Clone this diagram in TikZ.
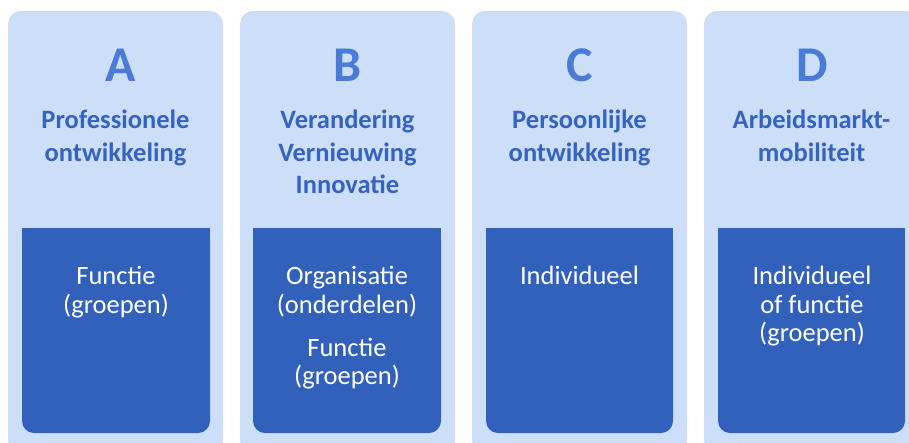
\documentclass[tikz,border=0pt]{standalone}
\usepackage{fontspec}
\setmainfont{Carlito}
\definecolor{outerbg}{HTML}{CDDFF8}
\definecolor{innerbg}{HTML}{3161BB}
\definecolor{headtxt}{HTML}{3563C0}
\definecolor{lettertxt}{HTML}{4A7BD6}
\begin{document}
\begin{tikzpicture}[x=1pt,y=-1pt,
  outerbox/.style={fill=outerbg,rounded corners=13pt},
  innerbox/.style={fill=innerbg},
  lettertext/.style={anchor=base,inner sep=0pt,text=lettertxt,font=\fontsize{50}{50}\selectfont\bfseries},
  headtext/.style={anchor=base,inner sep=0pt,align=center,text=headtxt,font=\fontsize{26.5}{32.5}\selectfont\bfseries},
  bodytext/.style={anchor=base,inner sep=0pt,align=center,text=white,font=\fontsize{26.5}{28.5}\selectfont}]
\useasboundingbox (0,0) rectangle (909,442);
\fill[white] (0,0) rectangle (909,442);
% outer columns
\foreach \l in {8,240,472,704}{
  \fill[outerbox] (\l,11) rectangle ({\l+215},454);
}
% inner boxes
\foreach \l/\r in {22/210,253/441,486/673,718/905}{
  \fill[innerbox,rounded corners=12pt] (\l,228) rectangle (\r,433);
  \fill[innerbox] (\l,228) rectangle (\r,320);
}
% letters
\node[lettertext] (la) at (121,81) {A};
\node[lettertext] (lb) at (348,81) {B};
\node[lettertext] (lc) at (580,81) {C};
\node[lettertext] (ld) at (812,81) {D};
% headings (anchor = baseline of last line)
\node[headtext] (ha) at (115.5,161) {Professionele\\ontwikkeling};
\node[headtext] (hb) at (347.5,193.5) {Verandering\\Vernieuwing\\Innovatie};
\node[headtext] (hc) at (579.5,161) {Persoonlijke\\ontwikkeling};
\node[headtext] (hd) at (811.5,161) {Arbeidsmarkt-\\mobiliteit};
% body texts (anchor = baseline of last line)
\node[bodytext] (ba) at (116,313) {Functie\\(groepen)};
\node[bodytext] (bb1) at (347,313) {Organisatie\\(onderdelen)};
\node[bodytext] (bb2) at (347,384.5) {Functie\\(groepen)};
\node[bodytext] (bc) at (579.5,284.5) {Individueel};
\node[bodytext] (bd) at (812,341.5) {Individueel\\of functie\\(groepen)};
\end{tikzpicture}
\end{document}
